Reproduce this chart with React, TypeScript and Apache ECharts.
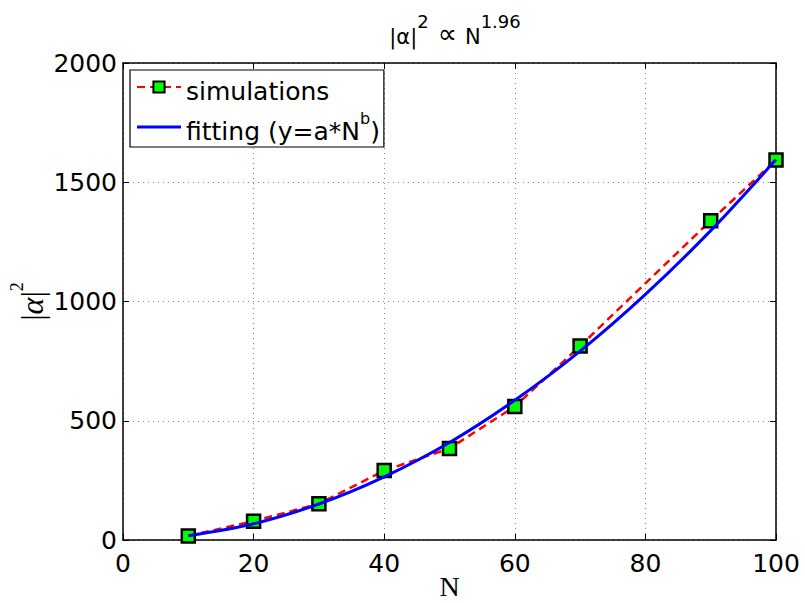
import React, { useEffect, useRef } from "react";
import * as echarts from "echarts";

const simN = [10, 20, 30, 40, 50, 60, 70, 90, 100];
const simValues = [17, 79, 152, 291, 384, 560, 813, 1339, 1593];
const fitN = [10, 20, 30, 40, 50, 60, 70, 80, 90, 100];
const fitValues = [17.5, 68, 151, 265, 409, 586, 792, 1030, 1297, 1595];
const xTicks = [0, 20, 40, 60, 80, 100];
const yTicks = [0, 500, 1000, 1500, 2000];

const SANS = "'DejaVu Sans', Verdana, sans-serif";
const SERIF = "'Liberation Serif', 'DejaVu Serif', 'Times New Roman', serif";

export default function App() {
  const ref = useRef<HTMLDivElement>(null);
  useEffect(() => {
    if (!ref.current) return;
    const chart = echarts.init(ref.current, null, { renderer: "svg" });
    const gridLine = { show: true, lineStyle: { color: "#888", type: [1, 4] as any, width: 1 } };
    const tick = { show: true, inside: true, length: 6, lineStyle: { color: "#000", width: 1 } };
    const axLine = { show: true, onZero: false, lineStyle: { color: "#000", width: 1.5 } };
    chart.setOption({
      animation: false,
      backgroundColor: "#fff",
      title: {
        text: "{a||α|}{s|2}{q|∝}{a|N}{s|1.96}",
        left: 450,
        textAlign: "center",
        top: 7,
        textStyle: {
          fontWeight: "normal",
          rich: {
            a: { fontFamily: SANS, fontSize: 21, fontWeight: "normal", color: "#000", lineHeight: 35, verticalAlign: "bottom" },
            q: { fontFamily: SANS, fontSize: 27, fontWeight: "normal", color: "#000", lineHeight: 35, verticalAlign: "bottom", padding: [0, 8, 0, 9] },
            s: { fontFamily: SANS, fontSize: 18, fontWeight: "normal", color: "#000", lineHeight: 35, verticalAlign: "top" },
          },
        },
      },
      legend: {
        orient: "vertical",
        left: 130,
        top: 70,
        backgroundColor: "#fff",
        borderColor: "#000",
        borderWidth: 1.2,
        borderRadius: 0,
        padding: [9, 4, 3, 6],
        itemWidth: 44,
        itemHeight: 14,
        itemGap: 6,
        data: [
          { name: "simulations" },
          { name: "fit", icon: "path://M0,0 L44,0 L44,3 L0,3 Z" },
        ],
        formatter: (name: string) =>
          name === "fit" ? "{n|fitting (y=a*N}{s|b}{n|)}" : "{n|simulations}",
        textStyle: {
          rich: {
            n: { fontFamily: SANS, fontSize: 25, color: "#000", lineHeight: 34, verticalAlign: "bottom" },
            s: { fontFamily: SANS, fontSize: 16, color: "#000", lineHeight: 34, verticalAlign: "top" },
          },
        },
      },
      grid: { left: 123, right: 29, top: 63, bottom: 63, containLabel: false, outerBoundsMode: "none" },
      xAxis: [
        {
          type: "value",
          min: 0,
          max: 100,
          interval: 20,
          position: "bottom",
          axisLine: axLine,
          axisTick: tick,
          splitLine: gridLine,
          axisLabel: {
            margin: 11,
            fontFamily: SANS,
            fontSize: 25,
            color: "#000",
            formatter: (v: number) => (xTicks.includes(v) ? String(v) : ""),
          },
          name: "N",
          nameLocation: "middle",
          nameGap: 31,
          nameMoveOverlap: false,
          nameTextStyle: { fontFamily: SERIF, fontSize: 28, color: "#000", lineHeight: 30 },
        },
        {
          type: "value",
          min: 0,
          max: 100,
          interval: 20,
          position: "top",
          axisLine: axLine,
          axisTick: tick,
          splitLine: { show: false },
          axisLabel: { show: false },
        },
      ],
      yAxis: [
        {
          type: "value",
          min: 0,
          max: 2000,
          interval: 500,
          position: "left",
          axisLine: axLine,
          axisTick: tick,
          splitLine: gridLine,
          axisLabel: {
            margin: 6,
            fontFamily: SANS,
            fontSize: 25,
            color: "#000",
            formatter: (v: number) => (yTicks.includes(v) ? String(v) : ""),
          },
          name: "{b||}{a|α}{b||}{s|2}",
          nameLocation: "middle",
          nameGap: 75,
          nameRotate: 90,
          nameMoveOverlap: false,
          nameTextStyle: {
            rich: {
              b: { fontFamily: SERIF, fontSize: 32, color: "#000", lineHeight: 40, verticalAlign: "bottom" },
              a: { fontFamily: SERIF, fontStyle: "italic", fontSize: 32, color: "#000", lineHeight: 40, verticalAlign: "bottom" },
              s: { fontFamily: SERIF, fontSize: 18, color: "#000", lineHeight: 40, verticalAlign: "top" },
            },
          },
        },
        {
          type: "value",
          min: 0,
          max: 2000,
          interval: 500,
          position: "right",
          axisLine: axLine,
          axisTick: tick,
          splitLine: { show: false },
          axisLabel: { show: false },
        },
      ],
      series: [
        {
          name: "simulations",
          type: "line",
          data: simN.map((n, i) => [n, simValues[i]]),
          lineStyle: { color: "#ff0000", width: 2.5, type: [8, 5] as any },
          symbol: "rect",
          symbolSize: 13,
          itemStyle: { color: "#00ff00", borderColor: "#000", borderWidth: 2.5 },
          z: 2,
        },
        {
          name: "fit",
          type: "line",
          data: fitN.map((n, i) => [n, fitValues[i]]),
          smooth: 0.3,
          showSymbol: false,
          symbol: "none",
          lineStyle: { color: "#0000ff", width: 3 },
          itemStyle: { color: "#0000ff" },
          z: 3,
        },
      ],
    });
    return () => chart.dispose();
  }, []);
  return <div ref={ref} style={{ width: 805, height: 603, position: "absolute", left: 0, top: 0 }} />;
}
